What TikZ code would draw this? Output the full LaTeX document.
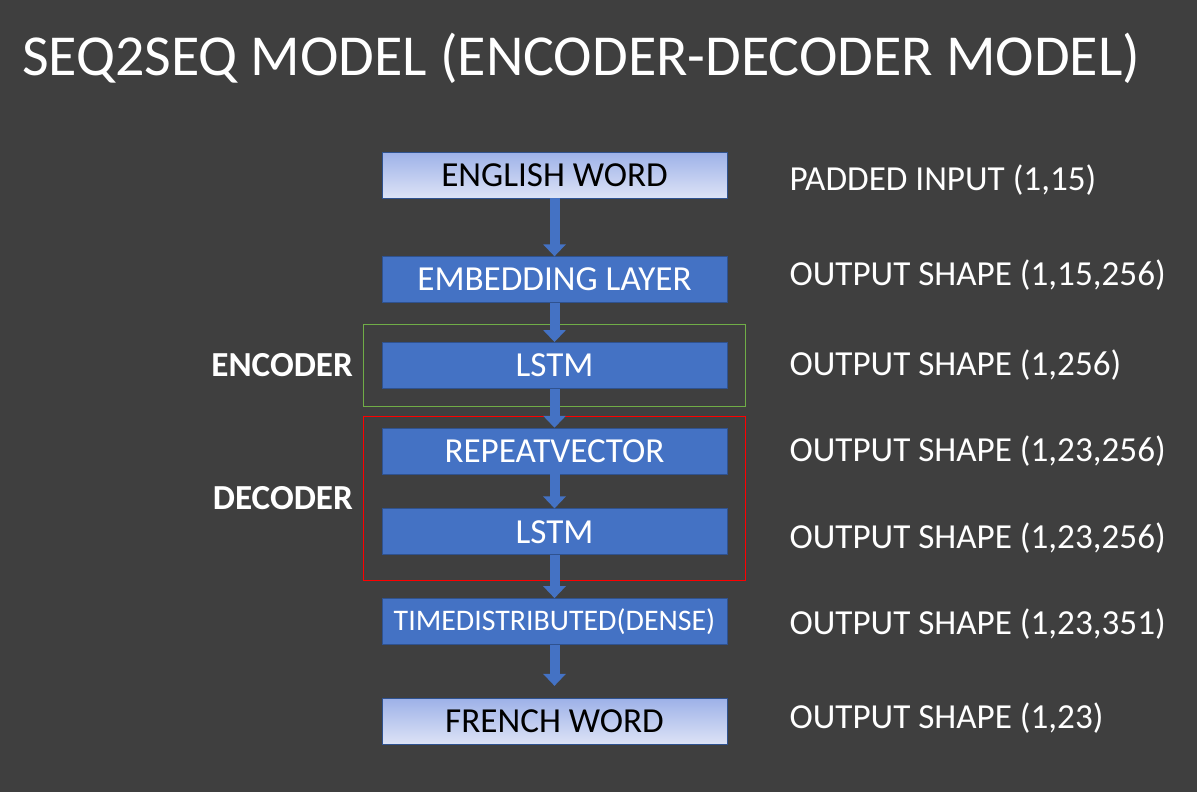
\documentclass[tikz,border=0pt]{standalone}
\usepackage{fontspec}
\setmainfont{Carlito}
\usetikzlibrary{positioning,fit,arrows.meta}
\definecolor{slidebg}{HTML}{3F3F3F}
\definecolor{boxblue}{HTML}{4472C4}
\definecolor{boxedge}{HTML}{2F528F}
\definecolor{gradtop}{HTML}{9DB1E8}
\definecolor{gradbot}{HTML}{DDE3F6}
\definecolor{encgreen}{HTML}{70AD47}
\definecolor{decred}{HTML}{FF0000}
\begin{document}
\begin{tikzpicture}[
  block/.style={rectangle, draw=boxedge, fill=boxblue, text=white, minimum width=6.9cm, minimum height=0.92cm, font=\fontsize{20}{24}\selectfont},
  wordbox/.style={block, fill=none, top color=gradtop, bottom color=gradbot, text=black},
  flow/.style={-{Triangle[width=0.44cm, length=0.24cm]}, line width=0.2cm, draw=boxblue},
  dimlbl/.style={anchor=west, text=white, font=\fontsize{20}{24}\selectfont},
  side/.style={text=white, font=\fontsize{20}{24}\selectfont\bfseries},
  frame/.style={draw, line width=0.6pt, inner xsep=0.36cm, inner ysep=0.36cm}
]
% Background
\fill[slidebg] (0,0) rectangle (23.94,-15.84);
\node[anchor=base west, text=white, font=\fontsize{33}{38}\selectfont] (title) at (0.32,-1.5) {SEQ2SEQ MODEL (ENCODER-DECODER MODEL)};

% Layers
\node[wordbox] (eng) at (11.09,-3.5) {ENGLISH WORD};
\node[block, below=1.16cm of eng] (emb) {EMBEDDING LAYER};
\node[block, below=0.78cm of emb] (lstma) {LSTM};
\node[block, below=0.78cm of lstma] (rep) {REPEATVECTOR};
\node[block, below=0.68cm of rep] (lstmb) {LSTM};
\node[block, below=0.86cm of lstmb, font=\fontsize{17}{20}\selectfont] (dense) {TIMEDISTRIBUTED(DENSE)};
\node[wordbox, below=1.06cm of dense] (fr) {FRENCH WORD};

% Encoder / decoder frames
\node[frame, draw=encgreen, fit=(lstma)] (enc) {};
\node[frame, draw=decred, fit=(rep)(lstmb), yshift=-0.14cm] (dec) {};
\node[side, left=0.08cm of enc] (enclbl) {ENCODER};
\node[side, left=0.08cm of dec] (declbl) {DECODER};

% Arrows
\draw[flow] (eng) -- (emb);
\draw[flow] (emb) -- (lstma);
\draw[flow] (lstma) -- (rep);
\draw[flow] (rep) -- (lstmb);
\draw[flow] (lstmb) -- (dense);
\draw[flow, shorten >=0.24cm] (dense) -- (fr);

% Output shapes
\node[dimlbl, right=1.12cm of eng, yshift=-0.1cm] (s1) {PADDED INPUT (1,15)};
\node[dimlbl, right=1.12cm of emb, yshift=0.1cm] (s2) {OUTPUT SHAPE (1,15,256)};
\node[dimlbl, right=1.12cm of lstma] (s3) {OUTPUT SHAPE (1,256)};
\node[dimlbl, right=1.12cm of rep] (s4) {OUTPUT SHAPE (1,23,256)};
\node[dimlbl, right=1.12cm of lstmb, yshift=-0.12cm] (s5) {OUTPUT SHAPE (1,23,256)};
\node[dimlbl, right=1.12cm of dense, yshift=-0.06cm] (s6) {OUTPUT SHAPE (1,23,351)};
\node[dimlbl, right=1.12cm of fr, yshift=0.06cm] (s7) {OUTPUT SHAPE (1,23)};
\end{tikzpicture}
\end{document}
